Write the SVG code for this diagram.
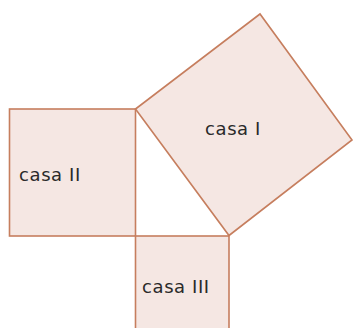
<svg xmlns="http://www.w3.org/2000/svg" width="353" height="328" viewBox="0 0 353 328">
<style>
.sq{fill:#f5e7e3;stroke:#c67e5e;stroke-width:1.6}
.lb{font-family:"DejaVu Sans",Verdana,sans-serif;font-size:18px;letter-spacing:0.6px;fill:#2a2a2a}
</style>
<rect width="353" height="328" fill="#fff"/>
<g id="casa-II"><rect class="sq" x="9.5" y="109" width="126" height="127"/><text class="lb" x="19" y="181">casa II</text></g>
<g id="casa-III"><rect class="sq" x="135.5" y="236" width="93.5" height="100"/><text class="lb" x="142" y="293">casa III</text></g>
<g id="casa-I"><polygon class="sq" points="135.5,109 229,235.5 352,140 260,14"/><text class="lb" x="205" y="135">casa I</text></g>
</svg>
